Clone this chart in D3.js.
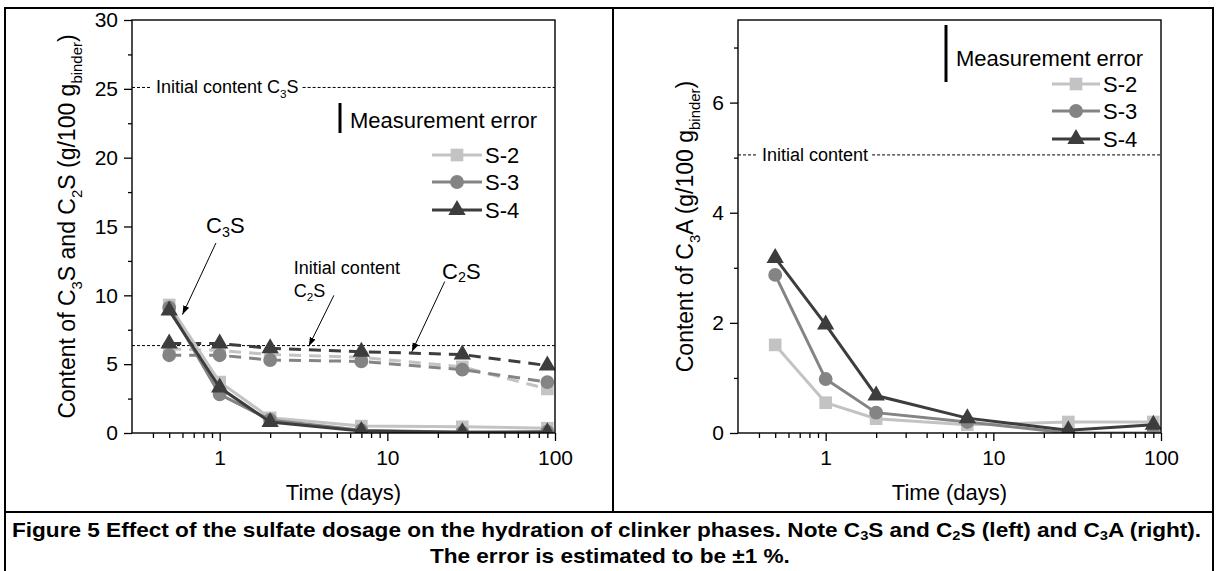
<!DOCTYPE html>
<html>
<head>
<meta charset="utf-8">
<script src="https://cdn.jsdelivr.net/npm/d3@7"></script>
<style>
  html, body { margin: 0; padding: 0; background: #fff; }
  svg { display: block; }
</style>
</head>
<body>
<svg id="fig" width="1217" height="571"></svg>
<script>
// ---- data ----------------------------------------------------------
const days = [0.5, 1, 2, 7, 28, 90];
const seriesNames = ["S-2", "S-3", "S-4"];
const seriesColors = ["#c3c3c3", "#848484", "#3d3d3d"];
const seriesSymbols = ["square", "circle", "triangle"];

// C3S content (g/100 g binder)
const c3s_S2 = [9.3, 3.7, 1.1, 0.5, 0.45, 0.35];
const c3s_S3 = [9.1, 2.8, 0.95, 0.2, 0.05, 0.1];
const c3s_S4 = [8.9, 3.3, 0.8, 0.15, 0.05, 0.05];
// C2S content (g/100 g binder)
const c2s_S2 = [6.1, 6.0, 5.7, 5.5, 4.8, 3.2];
const c2s_S3 = [5.65, 5.65, 5.3, 5.2, 4.6, 3.7];
const c2s_S4 = [6.5, 6.5, 6.15, 5.9, 5.7, 4.9];
// C3A content (g/100 g binder)
const c3a_S2 = [1.6, 0.55, 0.26, 0.15, 0.2, 0.2];
const c3a_S3 = [2.87, 0.98, 0.37, 0.2, 0.0, 0.0];
const c3a_S4 = [3.18, 1.97, 0.68, 0.27, 0.05, 0.15];

const initialC3S = 25.1;
const initialC2S = 6.35;
const initialC3A = 5.05;

const xTickValues = [1, 10, 100];
const xMinorValues = [0.4, 0.5, 0.6, 0.7, 0.8, 0.9, 2, 3, 4, 5, 6, 7, 8, 9, 20, 30, 40, 50, 60, 70, 80, 90];
const leftYTicks = [0, 5, 10, 15, 20, 25, 30];
const leftYMinor = [2.5, 7.5, 12.5, 17.5, 22.5, 27.5];
const rightYTicks = [0, 2, 4, 6];
const rightYMinor = [1, 3, 5, 7];

// ---- drawing -------------------------------------------------------
const FONT = '"Liberation Sans", Arial, Helvetica, sans-serif';
const svg = d3.select("#fig").attr("font-family", FONT);
const defs = svg.append("defs");

defs.append("marker")
  .attr("id", "arrowhead")
  .attr("viewBox", "0 0 10 10")
  .attr("refX", 10).attr("refY", 5)
  .attr("markerWidth", 9).attr("markerHeight", 9)
  .attr("markerUnits", "userSpaceOnUse")
  .attr("orient", "auto")
  .append("path").attr("d", "M0,1.5L10,5L0,8.5Z").attr("fill", "#000");

// text with subscript parts: [["C",0],["3",1],["S",0]]
function richText(sel, parts, size) {
  let prevSub = false;
  parts.forEach(([t, sub]) => {
    const ts = sel.append("tspan").text(t);
    if (sub) {
      ts.attr("font-size", size * 0.65).attr("dy", prevSub ? 0 : size * 0.3);
    } else {
      ts.attr("font-size", size);
      if (prevSub) ts.attr("dy", -size * 0.3);
    }
    prevSub = !!sub;
  });
  return sel;
}

function symbolPath(kind) {
  const t = kind === "square" ? d3.symbolSquare : kind === "circle" ? d3.symbolCircle : d3.symbolTriangle;
  const size = kind === "square" ? 160 : kind === "circle" ? 150 : 130;
  return d3.symbol().type(t).size(size)();
}

// outer table frame
const frame = svg.append("g").attr("stroke", "#000").attr("stroke-width", 2).attr("fill", "none");
frame.append("path").attr("d", "M5,571V8H1213V571");
frame.append("path").attr("d", "M613,8V512");
frame.append("path").attr("d", "M5,512H1213");

function panel(cfg) {
  const top = 20, bottom = 433;
  const x = d3.scaleLog().domain([0.3, 100]).range([cfg.x0, cfg.x1]);
  const y = d3.scaleLinear().domain(cfg.yDomain).range([bottom, top]);
  const g = svg.append("g");

  defs.append("clipPath").attr("id", "clip-" + cfg.id)
    .append("rect").attr("x", cfg.x0).attr("y", top)
    .attr("width", cfg.x1 - cfg.x0).attr("height", bottom - top);

  // axes
  const styleAxis = a => {
    a.attr("font-size", 21).attr("font-family", FONT);
    a.select(".domain").remove();
    a.selectAll("line").attr("stroke", "#000").attr("stroke-width", 1.3);
    a.selectAll("text").attr("fill", "#000");
  };
  g.append("g").attr("transform", `translate(0,${bottom})`)
    .call(d3.axisBottom(x).tickValues(xTickValues).tickSize(8).tickPadding(9).tickFormat(d3.format("d")))
    .call(styleAxis);
  g.append("g").attr("transform", `translate(0,${bottom})`)
    .call(d3.axisBottom(x).tickValues(xMinorValues).tickSize(5).tickFormat(""))
    .call(styleAxis);
  g.append("g").attr("transform", `translate(${cfg.x0},0)`)
    .call(d3.axisLeft(y).tickValues(cfg.yTicks).tickSize(8).tickPadding(6).tickFormat(d3.format("d")))
    .call(styleAxis);
  g.append("g").attr("transform", `translate(${cfg.x0},0)`)
    .call(d3.axisLeft(y).tickValues(cfg.yMinor).tickSize(4).tickFormat(""))
    .call(styleAxis);

  // axis titles
  g.append("text").attr("x", (cfg.x0 + cfg.x1) / 2).attr("y", 500)
    .attr("text-anchor", "middle").attr("font-size", 22).attr("fill", "#000")
    .text("Time (days)");
  richText(
    g.append("text").attr("transform", `translate(${cfg.yTitleX},${(top + bottom) / 2}) rotate(-90)`)
      .attr("text-anchor", "middle").attr("fill", "#000").attr("font-size", 23),
    cfg.yTitle, 23);

  // dotted reference lines with inline labels
  cfg.refLines.forEach(r => {
    const yy = y(r.value);
    const lineG = g.append("g").attr("stroke", "#000").attr("stroke-width", 1).attr("stroke-dasharray", "3,2");
    if (r.label) {
      const t = richText(g.append("text").attr("x", cfg.x0 + 24).attr("y", yy)
        .attr("dominant-baseline", "central").attr("font-size", 18).attr("fill", "#000"), r.label, 18);
      const w = t.node().getComputedTextLength();
      lineG.append("line").attr("x1", cfg.x0).attr("x2", cfg.x0 + 20).attr("y1", yy).attr("y2", yy);
      lineG.append("line").attr("x1", cfg.x0 + 28 + w).attr("x2", cfg.x1).attr("y1", yy).attr("y2", yy);
    } else {
      lineG.append("line").attr("x1", cfg.x0).attr("x2", cfg.x1).attr("y1", yy).attr("y2", yy);
    }
  });

  // data series
  const dataG = g.append("g").attr("clip-path", `url(#clip-${cfg.id})`);
  cfg.series.forEach(s => {
    const pts = days.map((d, i) => [d, s.values[i]]);
    dataG.append("path").datum(pts)
      .attr("fill", "none").attr("stroke", seriesColors[s.k]).attr("stroke-width", 3)
      .attr("stroke-dasharray", s.dashed ? "12,8" : null)
      .attr("d", d3.line().x(p => x(p[0])).y(p => y(p[1])));
    dataG.selectAll(null).data(pts).enter().append("path")
      .attr("transform", p => `translate(${x(p[0])},${y(p[1])})`)
      .attr("d", symbolPath(seriesSymbols[s.k]))
      .attr("fill", seriesColors[s.k]);
  });

  // plot frame
  g.append("rect").attr("x", cfg.x0).attr("y", top)
    .attr("width", cfg.x1 - cfg.x0).attr("height", bottom - top)
    .attr("fill", "none").attr("stroke", "#000").attr("stroke-width", 1.4);

  // legend
  const lg = cfg.legend;
  g.append("line").attr("x1", lg.barX).attr("x2", lg.barX).attr("y1", lg.barY0).attr("y2", lg.barY1)
    .attr("stroke", "#000").attr("stroke-width", 3);
  g.append("text").attr("x", lg.barX + 10).attr("y", lg.textY)
    .attr("dominant-baseline", "central").attr("font-size", 22).attr("fill", "#000")
    .text("Measurement error");
  seriesNames.forEach((name, k) => {
    const ry = lg.rows[k];
    g.append("line").attr("x1", lg.lineX0).attr("x2", lg.lineX1).attr("y1", ry).attr("y2", ry)
      .attr("stroke", seriesColors[k]).attr("stroke-width", 3);
    g.append("path").attr("transform", `translate(${(lg.lineX0 + lg.lineX1) / 2},${ry})`)
      .attr("d", symbolPath(seriesSymbols[k])).attr("fill", seriesColors[k]);
    g.append("text").attr("x", lg.lineX1 + 3).attr("y", ry)
      .attr("dominant-baseline", "central").attr("font-size", 22).attr("fill", "#000")
      .text(name);
  });

  // annotations with arrows
  (cfg.notes || []).forEach(n => {
    n.lines.forEach((ln, i) => {
      richText(g.append("text").attr("x", x(n.at[0])).attr("y", y(n.at[1]) + i * n.lineStep)
        .attr("dominant-baseline", "central").attr("font-size", n.size).attr("fill", "#000"), ln, n.size);
    });
    g.append("line")
      .attr("x1", x(n.from[0])).attr("y1", y(n.from[1]))
      .attr("x2", x(n.to[0])).attr("y2", y(n.to[1]))
      .attr("stroke", "#000").attr("stroke-width", 1)
      .attr("marker-end", "url(#arrowhead)");
  });
}

// left panel: C3S and C2S
panel({
  id: "left", x0: 132, x1: 555, yDomain: [0, 30],
  yTicks: leftYTicks, yMinor: leftYMinor, yTitleX: 75,
  yTitle: [["Content of C", 0], ["3", 1], ["S and C", 0], ["2", 1], ["S (g/100 g", 0], ["binder", 1], [")", 0]],
  refLines: [
    { value: initialC3S, label: [["Initial content C", 0], ["3", 1], ["S", 0]] },
    { value: initialC2S }
  ],
  series: [
    { k: 0, values: c2s_S2, dashed: true },
    { k: 1, values: c2s_S3, dashed: true },
    { k: 2, values: c2s_S4, dashed: true },
    { k: 0, values: c3s_S2 },
    { k: 1, values: c3s_S3 },
    { k: 2, values: c3s_S4 }
  ],
  legend: { barX: 340, barY0: 103, barY1: 133, textY: 120, lineX0: 432, lineX1: 482, rows: [155, 182, 210] },
  notes: [
    { lines: [[["C", 0], ["3", 1], ["S", 0]]], at: [0.83, 15.1], size: 22, lineStep: 0,
      from: [0.95, 13.8], to: [0.60, 8.6] },
    { lines: [[["Initial content", 0]], [["C", 0], ["2", 1], ["S", 0]]], at: [2.77, 12.0], size: 18, lineStep: 23,
      from: [4.8, 10.0], to: [3.4, 6.3] },
    { lines: [[["C", 0], ["2", 1], ["S", 0]]], at: [21.2, 11.8], size: 22, lineStep: 0,
      from: [22.0, 11.0], to: [14.0, 5.9] }
  ]
});

// right panel: C3A
panel({
  id: "right", x0: 738, x1: 1161, yDomain: [0, 7.5],
  yTicks: rightYTicks, yMinor: rightYMinor, yTitleX: 693,
  yTitle: [["Content of C", 0], ["3", 1], ["A  (g/100 g", 0], ["binder", 1], [")", 0]],
  refLines: [
    { value: initialC3A, label: [["Initial content", 0]] }
  ],
  series: [
    { k: 0, values: c3a_S2 },
    { k: 1, values: c3a_S3 },
    { k: 2, values: c3a_S4 }
  ],
  legend: { barX: 946, barY0: 25, barY1: 82, textY: 58, lineX0: 1052, lineX1: 1100, rows: [84, 111, 139] }
});

// figure caption
function captionLine(parts, cx, cy, anchorStart, targetWidth, scale) {
  const g = svg.append("g");
  const t = richText(g.append("text").attr("font-size", 21).attr("font-weight", "bold").attr("fill", "#000")
    .attr("dominant-baseline", "central"), parts, 21);
  const w = t.node().getComputedTextLength();
  const sx = targetWidth ? targetWidth / w : scale;
  const left = anchorStart ? cx : cx - w * sx / 2;
  g.attr("transform", `translate(${left},${cy}) scale(${sx},1)`);
  return sx;
}
const sx = captionLine(
  [["Figure 5 Effect of the sulfate dosage on the hydration of clinker phases. Note C", 0], ["3", 1],
   ["S and C", 0], ["2", 1], ["S (left) and C", 0], ["3", 1], ["A (right).", 0]],
  12, 529, true, 1190, null);
captionLine([["The error is estimated to be \u00b11 %.", 0]], 610, 555, false, null, sx);
</script>
</body>
</html>
